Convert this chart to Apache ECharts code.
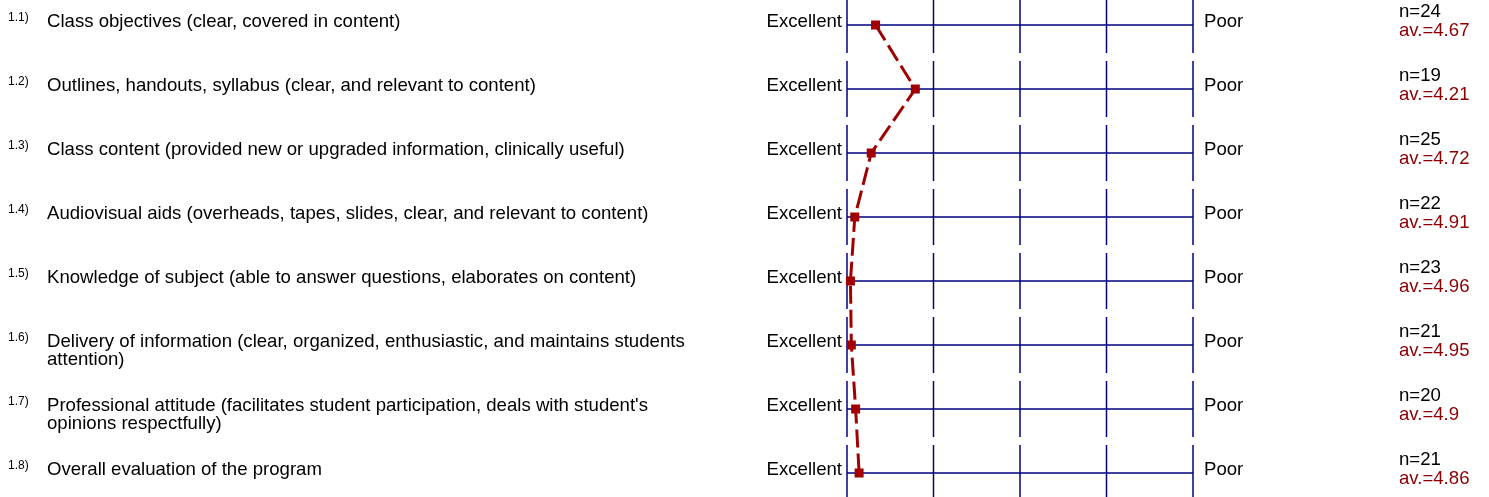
<!DOCTYPE html>
<html>
<head>
<meta charset="utf-8">
<title>Course evaluation profile</title>
<script src="https://cdn.jsdelivr.net/npm/echarts@6/dist/echarts.min.js"></script>
<style>
  html, body { margin: 0; padding: 0; background: #fff; }
  #chart { width: 1489px; height: 497px; }
</style>
</head>
<body>
<div id="chart"></div>
<script>
// question numbers and texts (line breaks as in the printed form)
const itemNums = ['1.1)', '1.2)', '1.3)', '1.4)', '1.5)', '1.6)', '1.7)', '1.8)'];
const itemLabels = [
  'Class objectives (clear, covered in content)',
  'Outlines, handouts, syllabus (clear, and relevant to content)',
  'Class content (provided new or upgraded information, clinically useful)',
  'Audiovisual aids (overheads, tapes, slides, clear, and relevant to content)',
  'Knowledge of subject (able to answer questions, elaborates on content)',
  'Delivery of information (clear, organized, enthusiastic, and maintains students\nattention)',
  "Professional attitude (facilitates student participation, deals with student's\nopinions respectfully)",
  'Overall evaluation of the program'
];
// number of answers and average score per question
const nValues = [24, 19, 25, 22, 23, 21, 20, 21];
const avValues = [4.67, 4.21, 4.72, 4.91, 4.96, 4.95, 4.9, 4.86];
// rating scale: 5 = Excellent (left) ... 1 = Poor (right)
const scaleTicks = [5, 4, 3, 2, 1];
const leftPole = 'Excellent';
const rightPole = 'Poor';

const FONT = '"Liberation Sans", Arial, sans-serif';
const FS = 18.6;
const NAVY = '#000080';
const RED = '#a00000';

const chart = echarts.init(document.getElementById('chart'), null, { renderer: 'canvas' });

// draws one row: scale line, tick segments and all the texts of that row
function renderRow(params, api) {
  const row = api.value(0);
  const [xl, y] = api.coord([scaleTicks[0], row]);
  const xr = api.coord([scaleTicks[scaleTicks.length - 1], row])[0];
  const half = 28;
  const children = [];

  children.push({
    type: 'line',
    shape: { x1: xl, y1: y, x2: xr, y2: y },
    style: { stroke: NAVY, lineWidth: 1.5 }
  });
  scaleTicks.forEach(t => {
    const x = api.coord([t, row])[0];
    children.push({
      type: 'line',
      shape: { x1: x, y1: y - half, x2: x, y2: y + half },
      style: { stroke: NAVY, lineWidth: 1.5 }
    });
  });

  // question number (small, raised)
  children.push({
    type: 'text', x: 8, y: y - 7,
    style: { text: itemNums[row], fontSize: 12, fontFamily: FONT, fill: '#000',
             align: 'left', verticalAlign: 'middle' }
  });
  // question text, first line sits on the scale line
  children.push({
    type: 'text', x: 47, y: y - 3.5 - 9.25,
    style: { text: itemLabels[row], fontSize: FS, lineHeight: 18.5, fontFamily: FONT, fill: '#000',
             align: 'left', verticalAlign: 'top' }
  });
  // poles
  children.push({
    type: 'text', x: xl - 5, y: y - 3.5,
    style: { text: leftPole, fontSize: FS, fontFamily: FONT, fill: '#000',
             align: 'right', verticalAlign: 'middle' }
  });
  children.push({
    type: 'text', x: xr + 11, y: y - 3.5,
    style: { text: rightPole, fontSize: FS, fontFamily: FONT, fill: '#000',
             align: 'left', verticalAlign: 'middle' }
  });
  // n and average
  children.push({
    type: 'text', x: 1399, y: y - 13,
    style: { text: 'n=' + nValues[row], fontSize: FS, fontFamily: FONT, fill: '#000',
             align: 'left', verticalAlign: 'middle' }
  });
  children.push({
    type: 'text', x: 1399, y: y + 5.5,
    style: { text: 'av.=' + avValues[row], fontSize: FS, fontFamily: FONT, fill: '#8b0000',
             align: 'left', verticalAlign: 'middle' }
  });

  return { type: 'group', children: children };
}

const option = {
  animation: false,
  backgroundColor: '#fff',
  grid: { left: 847, right: 296, top: 25, bottom: 24, containLabel: false },
  xAxis: {
    type: 'value', min: 1, max: 5, interval: 1, inverse: true,
    axisLine: { show: false }, axisTick: { show: false },
    axisLabel: { show: false }, splitLine: { show: false }
  },
  yAxis: {
    type: 'category', data: itemNums, inverse: true, boundaryGap: false,
    axisLine: { show: false }, axisTick: { show: false },
    axisLabel: { show: false }, splitLine: { show: false }
  },
  series: [
    {
      type: 'custom',
      name: 'frame',
      silent: true,
      clip: false,
      data: itemNums.map((_, i) => [i]),
      renderItem: renderRow,
      z: 1
    },
    {
      type: 'line',
      name: 'average',
      data: avValues.map((v, i) => [v, i]),
      symbol: 'rect',
      symbolSize: 9,
      itemStyle: { color: RED },
      lineStyle: { color: RED, width: 3, type: [18, 6] },
      z: 5
    }
  ]
};

chart.setOption(option);
</script>
</body>
</html>
